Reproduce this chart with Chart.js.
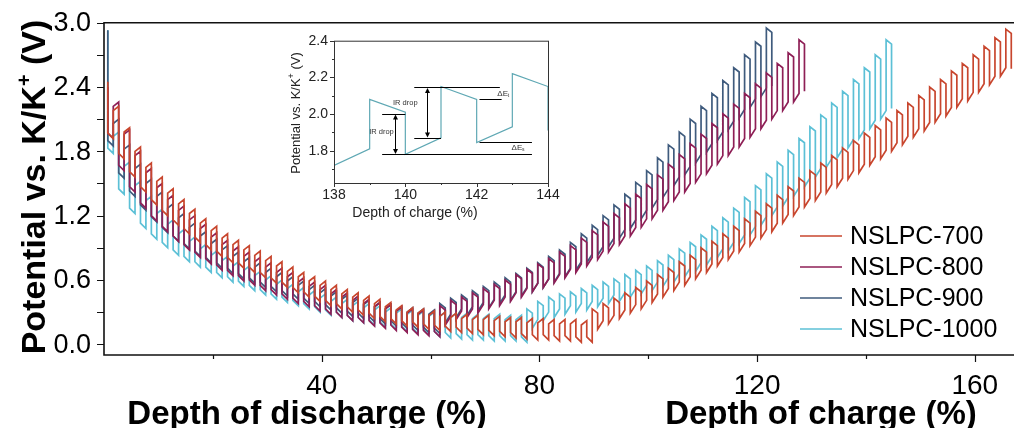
<!DOCTYPE html>
<html>
<head>
<meta charset="utf-8">
<title>GITT potential profiles</title>
<script src="https://cdn.jsdelivr.net/npm/chart.js@4.4.1/dist/chart.umd.min.js"></script>
<style>
  html, body { margin: 0; padding: 0; background: #fff; }
  #wrap { position: relative; width: 1014px; height: 428px; overflow: hidden; }
  #mainChart { position: absolute; left: 0; top: 0; }
  #insetChart { position: absolute; left: 270px; top: 25px; }
</style>
</head>
<body>
<div id="wrap">
  <canvas id="mainChart" width="1014" height="428"></canvas>
  <canvas id="insetChart" width="290" height="200"></canvas>
</div>
<script>
'use strict';

const FONT = '"Liberation Sans", Arial, Helvetica, sans-serif';

// series names and colours
const seriesNames = ['NSLPC-700', 'NSLPC-800', 'NSLPC-900', 'NSLPC-1000'];
const seriesColors = ['#c8462e', '#8e1f56', '#3f5b7d', '#5cc0d6'];

// GITT discharge: relaxed potential before each pulse (hi) and potential at pulse end (lo), one value per 2 % step
const red700DisHi = [2.45, 2.22, 2.02, 1.84, 1.69, 1.56, 1.45, 1.35, 1.26, 1.17,
  1.10, 1.03, 0.97, 0.92, 0.87, 0.82, 0.77, 0.72, 0.67, 0.63,
  0.59, 0.55, 0.51, 0.48, 0.45, 0.42, 0.39, 0.36, 0.34, 0.33,
  0.31, 0.30, 0.29, 0.28, 0.27, 0.27, 0.26, 0.25, 0.25, 0.24,
  0.24, 0.23, 0.23, 0.23, 0.22];
const red700DisLo = [1.92, 1.73, 1.56, 1.42, 1.30, 1.20, 1.11, 1.03, 0.95, 0.88,
  0.82, 0.76, 0.71, 0.67, 0.62, 0.57, 0.53, 0.48, 0.44, 0.40,
  0.36, 0.33, 0.30, 0.27, 0.24, 0.21, 0.19, 0.17, 0.16, 0.14,
  0.13, 0.12, 0.11, 0.10, 0.09, 0.08, 0.07, 0.06, 0.05, 0.04,
  0.04, 0.03, 0.03, 0.02, 0.02];
const purple800DisHi = [2.40, 2.26, 2.00, 1.80, 1.64, 1.50, 1.39, 1.29, 1.20, 1.12,
  1.04, 0.97, 0.91, 0.86, 0.81, 0.76, 0.71, 0.67, 0.62, 0.58,
  0.55, 0.51, 0.48, 0.45, 0.42, 0.39, 0.37, 0.35, 0.33, 0.32,
  0.31];
const purple800DisLo = [1.92, 1.62, 1.42, 1.27, 1.15, 1.05, 0.96, 0.88, 0.81, 0.75,
  0.69, 0.64, 0.59, 0.55, 0.50, 0.46, 0.42, 0.38, 0.35, 0.31,
  0.28, 0.25, 0.22, 0.20, 0.17, 0.15, 0.13, 0.11, 0.09, 0.08,
  0.07];
const blue900DisHi = [2.93, 2.10, 1.86, 1.68, 1.54, 1.42, 1.31, 1.22, 1.13, 1.05,
  0.98, 0.92, 0.86, 0.81, 0.76, 0.71, 0.67, 0.63, 0.59, 0.55,
  0.52, 0.49, 0.46, 0.43, 0.41, 0.39, 0.37, 0.35, 0.34, 0.33,
  0.32];
const blue900DisLo = [1.85, 1.55, 1.38, 1.25, 1.14, 1.04, 0.96, 0.89, 0.82, 0.76,
  0.71, 0.66, 0.61, 0.57, 0.53, 0.49, 0.45, 0.42, 0.38, 0.35,
  0.32, 0.29, 0.26, 0.24, 0.21, 0.19, 0.17, 0.15, 0.13, 0.11,
  0.10];
const cyan1000DisHi = [2.93, 1.98, 1.70, 1.52, 1.38, 1.26, 1.16, 1.07, 1.00, 0.93,
  0.87, 0.82, 0.77, 0.73, 0.68, 0.64, 0.60, 0.56, 0.53, 0.50,
  0.47, 0.44, 0.42, 0.40, 0.38, 0.36, 0.34, 0.33, 0.32, 0.31,
  0.30, 0.30, 0.29, 0.29, 0.28, 0.28, 0.28, 0.27, 0.27];
const cyan1000DisLo = [1.78, 1.40, 1.22, 1.08, 0.98, 0.90, 0.83, 0.77, 0.72, 0.67,
  0.62, 0.58, 0.54, 0.50, 0.46, 0.42, 0.39, 0.36, 0.33, 0.30,
  0.27, 0.25, 0.22, 0.20, 0.18, 0.16, 0.14, 0.12, 0.10, 0.09,
  0.07, 0.06, 0.05, 0.04, 0.04, 0.03, 0.03, 0.03, 0.02];

// GITT charge: peak after each pulse starts (hi) and relaxed bottom after it stops (lo, first entry = start level)
const red700ChgHi = [0.33, 0.38, 0.43, 0.48, 0.53, 0.59, 0.65, 0.71, 0.77, 0.83,
  0.90, 0.96, 1.03, 1.10, 1.17, 1.24, 1.31, 1.39, 1.47, 1.55,
  1.62, 1.69, 1.76, 1.83, 1.90, 1.97, 2.04, 2.11, 2.18, 2.25,
  2.32, 2.40, 2.47, 2.55, 2.62, 2.70, 2.78, 2.86, 2.94];
const red700ChgLo = [0.02, 0.14, 0.19, 0.24, 0.29, 0.33, 0.39, 0.44, 0.50, 0.55,
  0.61, 0.67, 0.73, 0.79, 0.86, 0.92, 0.99, 1.05, 1.13, 1.20,
  1.28, 1.34, 1.41, 1.47, 1.54, 1.60, 1.67, 1.73, 1.80, 1.86,
  1.93, 1.99, 2.07, 2.13, 2.21, 2.27, 2.35, 2.42, 2.50, 2.57];
const purple800ChgHi = [0.36, 0.41, 0.44, 0.48, 0.52, 0.56, 0.60, 0.65, 0.70, 0.75,
  0.80, 0.86, 0.92, 0.99, 1.06, 1.14, 1.22, 1.31, 1.40, 1.49,
  1.58, 1.68, 1.77, 1.87, 1.96, 2.06, 2.15, 2.24, 2.34, 2.43,
  2.53, 2.62, 2.72, 2.84];
const purple800ChgLo = [0.07, 0.18, 0.23, 0.25, 0.29, 0.33, 0.36, 0.40, 0.44, 0.49,
  0.53, 0.57, 0.62, 0.67, 0.73, 0.79, 0.86, 0.93, 1.01, 1.09,
  1.17, 1.25, 1.34, 1.42, 1.51, 1.59, 1.68, 1.76, 1.84, 1.93,
  2.01, 2.10, 2.18, 2.26, 2.36];
const blue900ChgHi = [0.38, 0.43, 0.46, 0.50, 0.54, 0.58, 0.62, 0.66, 0.71, 0.76,
  0.82, 0.88, 0.95, 1.03, 1.11, 1.20, 1.30, 1.40, 1.51, 1.62,
  1.74, 1.86, 1.98, 2.10, 2.22, 2.34, 2.46, 2.58, 2.70, 2.82,
  2.95];
const blue900ChgLo = [0.10, 0.20, 0.25, 0.27, 0.31, 0.34, 0.38, 0.41, 0.45, 0.49,
  0.53, 0.58, 0.63, 0.69, 0.76, 0.83, 0.91, 0.99, 1.08, 1.17,
  1.27, 1.37, 1.48, 1.58, 1.69, 1.79, 1.90, 2.00, 2.11, 2.21,
  2.31, 2.41];
const cyan1000ChgHi = [0.33, 0.40, 0.44, 0.47, 0.49, 0.52, 0.55, 0.58, 0.61, 0.65,
  0.69, 0.73, 0.78, 0.83, 0.89, 0.95, 1.02, 1.10, 1.18, 1.27,
  1.37, 1.48, 1.59, 1.70, 1.81, 1.92, 2.03, 2.14, 2.25, 2.36,
  2.47, 2.58, 2.70, 2.84];
const cyan1000ChgLo = [0.02, 0.15, 0.22, 0.25, 0.28, 0.30, 0.32, 0.35, 0.38, 0.40,
  0.44, 0.47, 0.50, 0.54, 0.58, 0.63, 0.68, 0.74, 0.81, 0.87,
  0.94, 1.02, 1.11, 1.20, 1.29, 1.38, 1.47, 1.56, 1.65, 1.74,
  1.83, 1.92, 2.01, 2.10, 2.20];

// pulse timing (depth in %) and the small drift inside each pulse / rest
const DIS_X0 = 0.7;
const STEP = 2;
const DIS_DRIFT_HI = 0.04, DIS_DRIFT_LO = 0.05;
const CHG_DRIFT_HI = 0.04, CHG_DRIFT_LO = 0.08;

// axis ticks
const xMajor = [40, 80, 120, 160];
const xMinor = [20, 60, 100, 140];
const yMajor = [0, 0.6, 1.2, 1.8, 2.4, 3.0];
const yMinor = [0.3, 0.9, 1.5, 2.1, 2.7];

// inset: one series zoomed on 138-144 % of charge
const insetX = [138, 139, 139, 140, 140, 141, 141, 142, 142, 143, 143, 144, 144];
const insetY = [1.72, 1.81, 2.08, 2.01, 1.78, 1.87, 2.15, 2.08, 1.845, 1.93, 2.22, 2.15, 1.91];
const insetXMajor = [138, 140, 142, 144];
const insetXMinor = [139, 141, 143];
const insetYMajor = [1.8, 2.0, 2.2, 2.4];
const insetYMinor = [1.7, 1.9, 2.1, 2.3];
// guide lines [x from, x to, potential] and double arrows [x, top, bottom]
const insetGuides = [[139.35, 140.0, 2.00], [139.35, 143.55, 1.78], [140.25, 141.0, 1.87],
  [140.25, 142.65, 2.145], [142.08, 142.7, 2.08], [142.08, 143.55, 1.845]];
const insetArrows = [[139.7, 2.00, 1.78], [140.6, 2.145, 1.87]];

function dischargePoints(hi, lo) {
  const pts = [];
  for (let k = 0; k < hi.length; k++) {
    const x = DIS_X0 + STEP * k;
    pts.push({ x: x, y: hi[k] });
    pts.push({ x: x, y: lo[k] + DIS_DRIFT_LO });
    pts.push({ x: x + 1, y: lo[k] });
    if (k + 1 < hi.length) pts.push({ x: x + 1, y: hi[k + 1] - DIS_DRIFT_HI });
  }
  return pts;
}

function chargePoints(x0, hi, lo) {
  const pts = [];
  for (let k = 0; k < hi.length; k++) {
    const x = x0 + STEP * k;
    pts.push({ x: x, y: lo[k] + (k === 0 ? 0 : CHG_DRIFT_LO) });
    pts.push({ x: x, y: hi[k] });
    pts.push({ x: x + 1, y: hi[k] - CHG_DRIFT_HI });
    pts.push({ x: x + 1, y: lo[k + 1] });
  }
  return pts;
}

function gittCurve(disHi, disLo, chgHi, chgLo) {
  const chgStart = DIS_X0 + STEP * (disHi.length - 1) + 1;
  return dischargePoints(disHi, disLo).concat(chargePoints(chgStart, chgHi, chgLo));
}

const curves = [
  gittCurve(red700DisHi, red700DisLo, red700ChgHi, red700ChgLo),
  gittCurve(purple800DisHi, purple800DisLo, purple800ChgHi, purple800ChgLo),
  gittCurve(blue900DisHi, blue900DisLo, blue900ChgHi, blue900ChgLo),
  gittCurve(cyan1000DisHi, cyan1000DisLo, cyan1000ChgHi, cyan1000ChgLo)
];

const mainDatasets = curves.map((pts, i) => ({
  label: seriesNames[i],
  data: pts,
  borderColor: seriesColors[i],
  borderWidth: 1.7,
  showLine: true,
  pointRadius: 0,
  fill: false
}));

const legendRows = [236, 267, 298, 329];

const mainDecor = {
  id: 'mainDecor',
  afterDraw(chart) {
    const { ctx, chartArea: a, scales: { x, y } } = chart;
    ctx.save();

    ctx.strokeStyle = '#111';
    ctx.lineWidth = 1.6;
    ctx.beginPath();
    ctx.moveTo(a.right + 2, a.top);
    ctx.lineTo(a.left, a.top);
    ctx.lineTo(a.left, a.bottom);
    ctx.lineTo(a.right + 2, a.bottom);
    ctx.stroke();

    ctx.lineWidth = 1.2;
    ctx.beginPath();
    for (const v of yMajor.concat(yMinor)) {
      const py = Math.round(y.getPixelForValue(v)) + 0.5;
      ctx.moveTo(a.left - 7, py);
      ctx.lineTo(a.left, py);
    }
    for (const v of xMajor) {
      const px = Math.round(x.getPixelForValue(v)) + 0.5;
      ctx.moveTo(px, a.bottom);
      ctx.lineTo(px, a.bottom + 7);
    }
    for (const v of xMinor) {
      const px = Math.round(x.getPixelForValue(v)) + 0.5;
      ctx.moveTo(px, a.bottom);
      ctx.lineTo(px, a.bottom + 4);
    }
    ctx.stroke();

    ctx.fillStyle = '#000';
    ctx.font = '27px ' + FONT;
    ctx.textAlign = 'right';
    ctx.textBaseline = 'middle';
    for (const v of yMajor) {
      ctx.fillText(v.toFixed(1), a.left - 13, y.getPixelForValue(v) + 1);
    }

    ctx.font = '28px ' + FONT;
    ctx.textAlign = 'center';
    ctx.textBaseline = 'alphabetic';
    for (const v of xMajor) {
      ctx.fillText(String(v), x.getPixelForValue(v), 394);
    }

    ctx.font = 'bold 33px ' + FONT;
    ctx.fillText('Depth of discharge (%)', 307, 424);
    ctx.fillText('Depth of charge (%)', 821, 424);

    // rotated y title with superscript +
    ctx.save();
    ctx.translate(45, 187);
    ctx.rotate(-Math.PI / 2);
    ctx.textAlign = 'left';
    const big = 'bold 34px ' + FONT;
    const small = 'bold 20px ' + FONT;
    ctx.font = big;
    const w1 = ctx.measureText('Potential vs. K/K').width;
    const w3 = ctx.measureText(' (V)').width;
    ctx.font = small;
    const w2 = ctx.measureText('+').width;
    const start = -(w1 + w2 + w3) / 2;
    ctx.font = big;
    ctx.fillText('Potential vs. K/K', start, 0);
    ctx.font = small;
    ctx.fillText('+', start + w1, -14);
    ctx.font = big;
    ctx.fillText(' (V)', start + w1 + w2, 0);
    ctx.restore();

    // legend
    ctx.font = '25px ' + FONT;
    ctx.textAlign = 'left';
    ctx.textBaseline = 'middle';
    chart.data.datasets.forEach((ds, i) => {
      const ly = legendRows[i];
      ctx.strokeStyle = ds.borderColor;
      ctx.lineWidth = 1.6;
      ctx.beginPath();
      ctx.moveTo(800, ly);
      ctx.lineTo(842, ly);
      ctx.stroke();
      ctx.fillStyle = '#000';
      ctx.fillText(ds.label, 850, ly + 1);
    });

    ctx.restore();
  }
};

new Chart(document.getElementById('mainChart'), {
  type: 'scatter',
  data: { datasets: mainDatasets },
  options: {
    responsive: false,
    animation: false,
    layout: { padding: { top: 22.7, right: 0, left: 0, bottom: 0 } },
    plugins: { legend: { display: false }, tooltip: { enabled: false } },
    scales: {
      x: {
        type: 'linear', min: 0, max: 167.2,
        ticks: { display: false },
        grid: { display: false, drawTicks: false },
        border: { display: false },
        afterFit(scale) { scale.height = 73; }
      },
      y: {
        type: 'linear', min: -0.1, max: 3.0,
        ticks: { display: false },
        grid: { display: false, drawTicks: false },
        border: { display: false },
        afterFit(scale) { scale.width = 104; }
      }
    }
  },
  plugins: [mainDecor]
});

function drawArrowHead(ctx, px, py, dir) {
  ctx.beginPath();
  ctx.moveTo(px, py);
  ctx.lineTo(px - 2.5, py - dir * 5);
  ctx.lineTo(px + 2.5, py - dir * 5);
  ctx.closePath();
  ctx.fill();
}

const insetDecor = {
  id: 'insetDecor',
  beforeDraw(chart) {
    const ctx = chart.ctx;
    ctx.save();
    ctx.fillStyle = '#fff';
    ctx.fillRect(0, 0, chart.width, chart.height);
    ctx.restore();
  },
  afterDraw(chart) {
    const { ctx, chartArea: a, scales: { x, y } } = chart;
    ctx.save();
    ctx.strokeStyle = '#333';
    ctx.lineWidth = 1;
    ctx.strokeRect(a.left + 0.5, a.top + 0.5, a.right - a.left, a.bottom - a.top);

    ctx.beginPath();
    for (const v of insetYMajor) {
      const py = Math.round(y.getPixelForValue(v)) + 0.5;
      ctx.moveTo(a.left - 4, py);
      ctx.lineTo(a.left, py);
    }
    for (const v of insetYMinor) {
      const py = Math.round(y.getPixelForValue(v)) + 0.5;
      ctx.moveTo(a.left - 2, py);
      ctx.lineTo(a.left, py);
    }
    for (const v of insetXMajor) {
      const px = Math.round(x.getPixelForValue(v)) + 0.5;
      ctx.moveTo(px, a.bottom);
      ctx.lineTo(px, a.bottom + 4);
    }
    for (const v of insetXMinor) {
      const px = Math.round(x.getPixelForValue(v)) + 0.5;
      ctx.moveTo(px, a.bottom);
      ctx.lineTo(px, a.bottom + 2);
    }
    ctx.stroke();

    ctx.fillStyle = '#222';
    ctx.font = '14px ' + FONT;
    ctx.textAlign = 'right';
    ctx.textBaseline = 'middle';
    for (const v of insetYMajor) ctx.fillText(v.toFixed(1), a.left - 6, y.getPixelForValue(v));
    ctx.textAlign = 'center';
    ctx.textBaseline = 'top';
    for (const v of insetXMajor) ctx.fillText(String(v), x.getPixelForValue(v), a.bottom + 5);

    ctx.textBaseline = 'alphabetic';
    ctx.fillText('Depth of charge (%)', 145, 192);

    ctx.save();
    ctx.translate(30, 88);
    ctx.rotate(-Math.PI / 2);
    ctx.textAlign = 'left';
    ctx.font = '13px ' + FONT;
    const w1 = ctx.measureText('Potential vs. K/K').width;
    const w3 = ctx.measureText(' (V)').width;
    ctx.font = '9px ' + FONT;
    const w2 = ctx.measureText('+').width;
    const s = -(w1 + w2 + w3) / 2;
    ctx.font = '13px ' + FONT;
    ctx.fillText('Potential vs. K/K', s, 0);
    ctx.font = '9px ' + FONT;
    ctx.fillText('+', s + w1, -6);
    ctx.font = '13px ' + FONT;
    ctx.fillText(' (V)', s + w1 + w2, 0);
    ctx.restore();

    // guide lines and IR-drop arrows
    ctx.strokeStyle = '#000';
    ctx.fillStyle = '#000';
    ctx.lineWidth = 1;
    ctx.beginPath();
    for (const [x1, x2, v] of insetGuides) {
      const py = Math.round(y.getPixelForValue(v)) + 0.5;
      ctx.moveTo(x.getPixelForValue(x1), py);
      ctx.lineTo(x.getPixelForValue(x2), py);
    }
    for (const [xv, top, bot] of insetArrows) {
      const px = Math.round(x.getPixelForValue(xv)) + 0.5;
      ctx.moveTo(px, y.getPixelForValue(top) + 4);
      ctx.lineTo(px, y.getPixelForValue(bot) - 4);
    }
    ctx.stroke();
    for (const [xv, top, bot] of insetArrows) {
      const px = Math.round(x.getPixelForValue(xv)) + 0.5;
      drawArrowHead(ctx, px, y.getPixelForValue(top) + 0.5, -1);
      drawArrowHead(ctx, px, y.getPixelForValue(bot) - 0.5, 1);
    }

    ctx.fillStyle = '#333';
    ctx.font = '7.5px ' + FONT;
    ctx.textAlign = 'center';
    ctx.textBaseline = 'middle';
    ctx.fillText('IR drop', x.getPixelForValue(139.33), y.getPixelForValue(1.905));
    ctx.fillText('IR drop', x.getPixelForValue(140.0), y.getPixelForValue(2.06));

    // ΔE labels with subscripts
    ctx.textAlign = 'left';
    const etx = x.getPixelForValue(142.58), ety = y.getPixelForValue(2.11);
    ctx.font = '8px ' + FONT;
    ctx.fillText('\u0394E', etx, ety);
    ctx.font = '5px ' + FONT;
    ctx.fillText('t', etx + 10.5, ety + 2);
    const esx = x.getPixelForValue(142.98), esy = y.getPixelForValue(1.815);
    ctx.font = '8px ' + FONT;
    ctx.fillText('\u0394E', esx, esy);
    ctx.font = '5px ' + FONT;
    ctx.fillText('s', esx + 10.5, esy + 2);
    ctx.restore();
  }
};

new Chart(document.getElementById('insetChart'), {
  type: 'scatter',
  data: {
    datasets: [{
      data: insetX.map((v, i) => ({ x: v, y: insetY[i] })),
      borderColor: '#5fa8b4',
      borderWidth: 1.2,
      showLine: true,
      pointRadius: 0
    }]
  },
  options: {
    responsive: false,
    animation: false,
    layout: { padding: { top: 15.7, right: 12, left: 0, bottom: 0 } },
    plugins: { legend: { display: false }, tooltip: { enabled: false } },
    scales: {
      x: {
        type: 'linear', min: 138, max: 144,
        ticks: { display: false },
        grid: { display: false, drawTicks: false },
        border: { display: false },
        afterFit(scale) { scale.height = 42; }
      },
      y: {
        type: 'linear', min: 1.624, max: 2.4,
        ticks: { display: false },
        grid: { display: false, drawTicks: false },
        border: { display: false },
        afterFit(scale) { scale.width = 64; }
      }
    }
  },
  plugins: [insetDecor]
});
</script>
</body>
</html>
